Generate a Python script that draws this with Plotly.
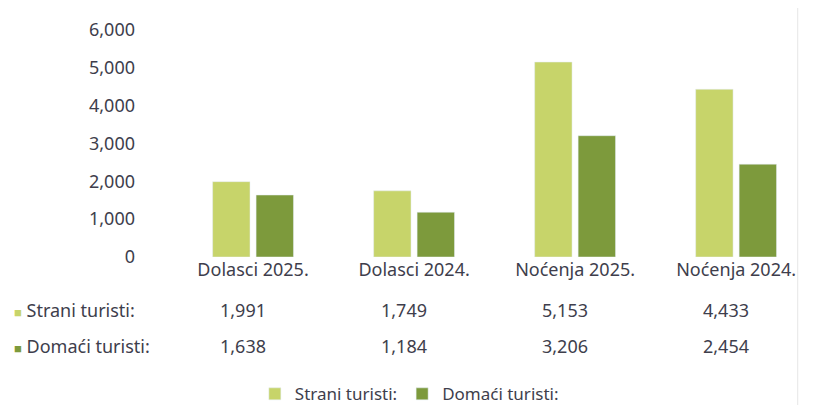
import plotly.graph_objects as go

categories = ["Dolasci 2025.", "Dolasci 2024.", "Noćenja 2025.", "Noćenja 2024."]
strani = [1991, 1749, 5153, 4433]
domaci = [1638, 1184, 3206, 2454]
series_names = ["Strani turisti:", "Domaći turisti:"]
y_ticks = [0, 1000, 2000, 3000, 4000, 5000, 6000]

LIGHT = "#c7d46a"
DARK = "#7d9a3c"
TEXT = "#3e3e4c"
FONT = "Noto Sans"

fig = go.Figure()
fig.add_trace(go.Bar(x=categories, y=strani, name=series_names[0],
                     marker_color=LIGHT))
fig.add_trace(go.Bar(x=categories, y=domaci, name=series_names[1],
                     marker_color=DARK))

# data table below the chart
rows = [(series_names[0], strani, LIGHT, -0.233), (series_names[1], domaci, DARK, -0.392)]
for label, values, color, ypos in rows:
    fig.add_annotation(
        x=-0.2075, y=ypos, xref="paper", yref="paper", xanchor="left", yanchor="middle",
        text=f"<span style='color:{color};font-size:13px'>■</span> {label}",
        showarrow=False, font=dict(family=FONT, size=18, color=TEXT))
    for cat, v in zip(categories, values):
        fig.add_annotation(
            x=cat, y=ypos, xref="x", yref="paper", xshift=-10, yanchor="middle",
            text=f"{v:,}", showarrow=False,
            font=dict(family=FONT, size=18, color=TEXT))

# page body adds 8px margin, so the figure is sized 812x397
fig.update_layout(
    width=812, height=397,
    margin=dict(l=142, r=5, t=22, b=148, autoexpand=False),
    paper_bgcolor="white", plot_bgcolor="white",
    barmode="group", bargap=0.46, bargroupgap=0.14,
    font=dict(family=FONT, size=18, color=TEXT),
    showlegend=True,
    legend=dict(orientation="h", x=0.39, y=0.027, xref="paper", yref="container",
                xanchor="center", yanchor="middle",
                itemwidth=30, font=dict(family=FONT, size=17, color=TEXT)),
    shapes=[dict(type="line", xref="paper", yref="paper", x0=0.974, x1=0.974,
                 y0=-0.66, y1=1.1, line=dict(color="#e6e6e6", width=1))],
)
fig.update_xaxes(range=[-0.64, 3.49], showgrid=False, showline=False, ticks="",
                 tickfont=dict(family=FONT, size=18, color=TEXT))
fig.update_yaxes(range=[0, 6000], tickvals=y_ticks, tickformat=",", showgrid=False,
                 zeroline=False, showline=False, ticklabelstandoff=14,
                 tickfont=dict(family=FONT, size=18, color=TEXT))

fig.write_html("out.html")
